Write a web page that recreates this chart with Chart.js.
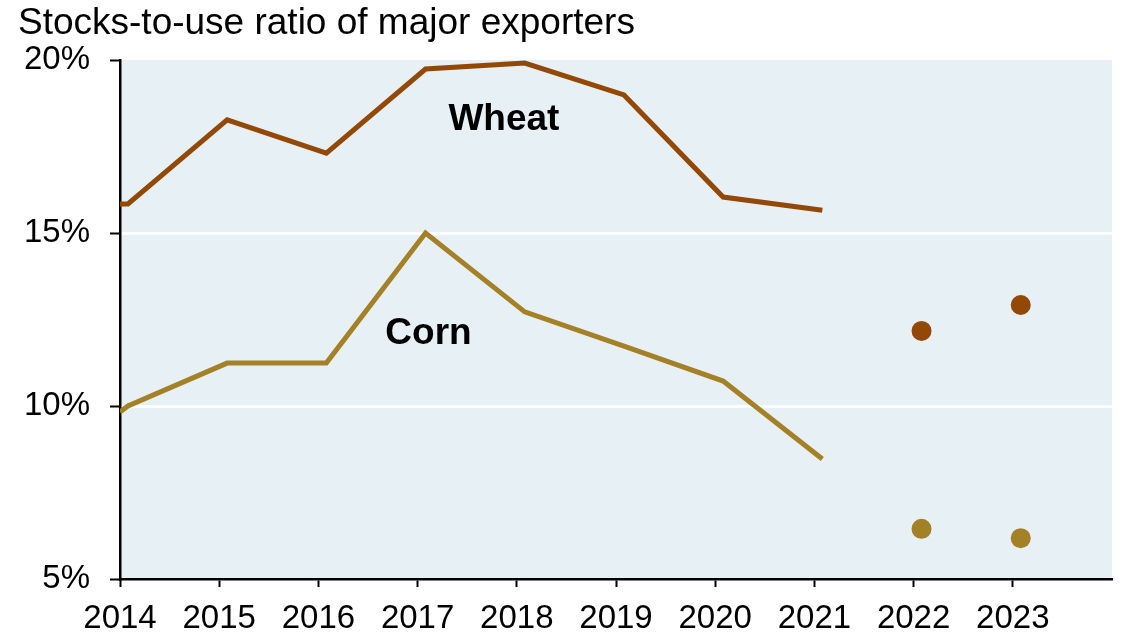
<!DOCTYPE html>
<html>
<head>
<meta charset="utf-8">
<script src="https://cdn.jsdelivr.net/npm/chart.js@4"></script>
<style>
  html, body { margin: 0; padding: 0; background: #fff; }
  #wrap { position: relative; width: 1133px; height: 634px; }
  #title { position: absolute; left: 18px; top: 3px; font: 37px/37px "Liberation Sans", Arial, sans-serif; color: #000; white-space: nowrap; }
</style>
</head>
<body>
<div id="wrap">
  <div id="title">Stocks-to-use ratio of major exporters</div>
  <canvas id="chart" width="1133" height="634"></canvas>
</div>
<script>
// marketing years (points sit a little after the year tick)
const lineYears = [2014, 2014.08, 2015.08, 2016.08, 2017.08, 2018.08, 2019.08, 2020.08, 2021.08];
const wheatLine = [15.84, 15.84, 18.27, 17.31, 19.74, 19.91, 18.99, 16.04, 15.66];
const cornLine  = [9.83, 10.0, 11.24, 11.24, 15.0, 12.72, 11.73, 10.72, 8.47];

const dotYears  = [2022.08, 2023.08];
const wheatDots = [12.17, 12.92];
const cornDots  = [6.45, 6.18];

const tickYears = [2014, 2015, 2016, 2017, 2018, 2019, 2020, 2021, 2022, 2023];

const wheatColor = "#934806";
const cornColor  = "#A48026";

const seriesLabels = [
    { text: "Wheat", x: 2017.87, y: 18.26 },
    { text: "Corn",  x: 2017.11, y: 12.08 }
];

function pts(xs, ys) {
    return xs.map((x, i) => ({ x: x, y: ys[i] }));
}

const bgPlugin = {
    id: "bg",
    beforeDraw(chart) {
        const a = chart.chartArea;
        const ctx = chart.ctx;
        ctx.save();
        ctx.fillStyle = "#E7F0F4";
        ctx.fillRect(a.left, a.top, a.right - a.left, a.bottom - a.top);
        ctx.restore();
    }
};

const labelPlugin = {
    id: "seriesLabels",
    afterDatasetsDraw(chart) {
        const ctx = chart.ctx;
        const xs = chart.scales.x, ys = chart.scales.y;
        ctx.save();
        ctx.font = "bold 37px 'Liberation Sans', Arial, sans-serif";
        ctx.fillStyle = "#000";
        ctx.textAlign = "center";
        ctx.textBaseline = "middle";
        seriesLabels.forEach(l => {
            ctx.fillText(l.text, xs.getPixelForValue(l.x), ys.getPixelForValue(l.y));
        });
        ctx.restore();
    }
};

const tickFont = { family: "'Liberation Sans', Arial, sans-serif", size: 33 };

new Chart(document.getElementById("chart").getContext("2d"), {
    type: "line",
    data: {
        datasets: [
            {
                label: "Wheat",
                data: pts(lineYears, wheatLine),
                borderColor: wheatColor,
                borderWidth: 5,
                pointRadius: 0,
                tension: 0
            },
            {
                label: "Corn",
                data: pts(lineYears, cornLine),
                borderColor: cornColor,
                borderWidth: 5,
                pointRadius: 0,
                tension: 0
            },
            {
                label: "Wheat forecast",
                data: pts(dotYears, wheatDots),
                showLine: false,
                pointRadius: 10,
                pointBackgroundColor: wheatColor,
                pointBorderWidth: 0
            },
            {
                label: "Corn forecast",
                data: pts(dotYears, cornDots),
                showLine: false,
                pointRadius: 10,
                pointBackgroundColor: cornColor,
                pointBorderWidth: 0
            }
        ]
    },
    options: {
        responsive: false,
        animation: false,
        layout: { padding: { left: 0, right: 21, top: 60, bottom: 0 } },
        plugins: {
            legend: { display: false },
            tooltip: { enabled: false }
        },
        scales: {
            x: {
                type: "linear",
                min: 2014,
                max: 2024,
                afterBuildTicks: s => { s.ticks = tickYears.map(v => ({ value: v })); },
                afterFit: s => { s.height = 55; },
                ticks: {
                    color: "#000",
                    font: tickFont,
                    padding: 12,
                    maxRotation: 0,
                    autoSkip: false,
                    callback: v => String(v)
                },
                grid: {
                    drawOnChartArea: false,
                    tickColor: "#000",
                    tickLength: 8,
                    tickWidth: 2
                },
                border: { display: true, color: "#000", width: 2.5 }
            },
            y: {
                min: 5,
                max: 20,
                afterFit: s => { s.width = 120; },
                ticks: {
                    stepSize: 5,
                    color: "#000",
                    font: tickFont,
                    padding: 20,
                    callback: v => v + "%"
                },
                grid: {
                    color: ctx => (ctx.tick && (ctx.tick.value === 5 || ctx.tick.value === 20)) ? "rgba(0,0,0,0)" : "#fff",
                    lineWidth: 3,
                    tickColor: "#000",
                    tickLength: 10,
                    tickWidth: 2
                },
                border: { display: true, color: "#000", width: 2.5 }
            }
        }
    },
    plugins: [bgPlugin, labelPlugin]
});
</script>
</body>
</html>
